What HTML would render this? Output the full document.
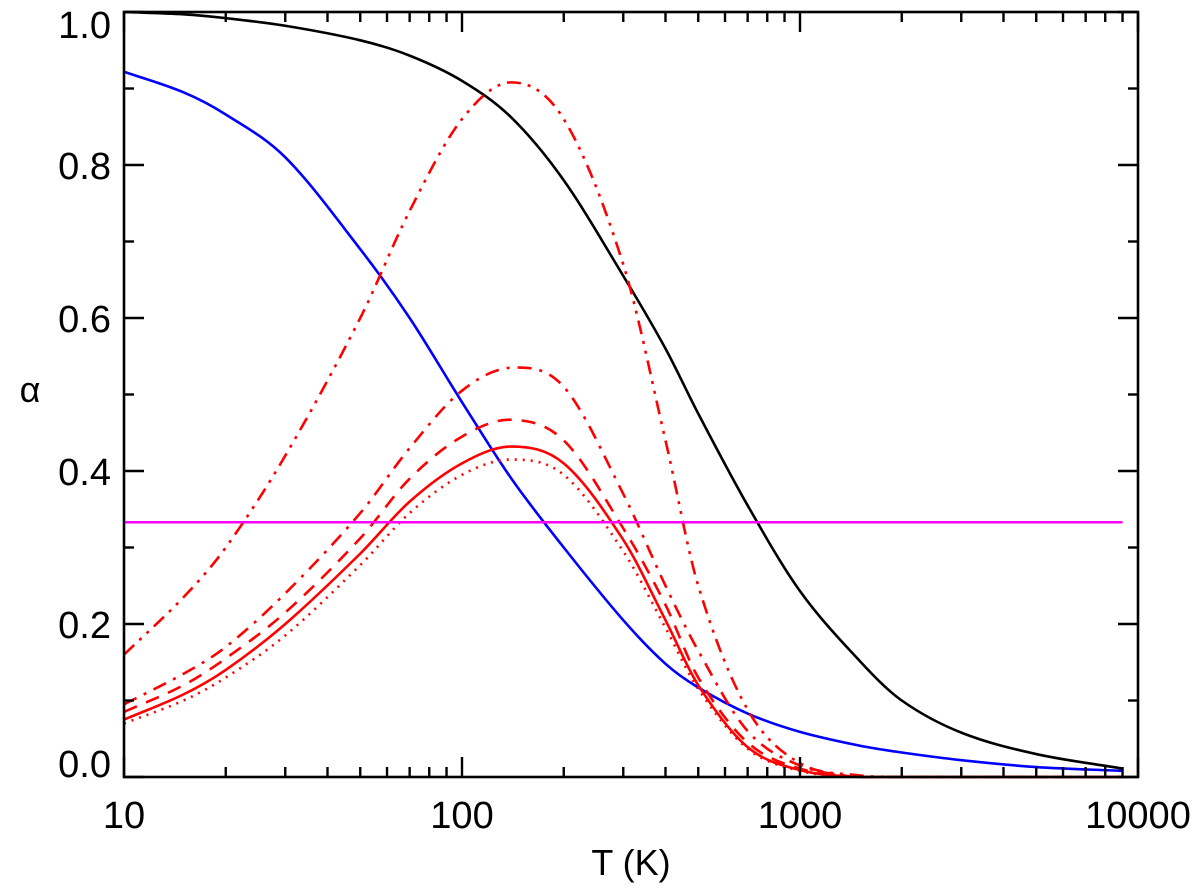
<!DOCTYPE html>
<html><head><meta charset="utf-8"><style>
html,body{margin:0;padding:0;background:#fff}
svg text{font-family:"Liberation Sans",sans-serif;fill:#000}
</style></head><body>
<svg id="chart" width="1200" height="887" xmlns="http://www.w3.org/2000/svg">
<g id="marks"></g><g id="axes"></g>
</svg>
<script>
const temps=[10,15,20,30,50,70,100,140,200,300,400,500,700,1000,1500,2000,3000,5000,9000];
const blackVals=[1.0,0.997,0.992,0.982,0.963,0.943,0.91,0.862,0.78,0.655,0.56,0.475,0.355,0.243,0.152,0.1,0.058,0.03,0.011];
const blueVals=[0.922,0.895,0.866,0.81,0.69,0.6,0.49,0.39,0.30,0.205,0.148,0.117,0.083,0.059,0.041,0.032,0.022,0.013,0.008];
const redSolid=[0.075,0.108,0.14,0.2,0.292,0.36,0.41,0.432,0.41,0.31,0.205,0.12,0.039,0.009,0,0,0,0,0];
const redDotted=[0.07,0.10,0.13,0.185,0.277,0.345,0.395,0.415,0.395,0.295,0.195,0.115,0.037,0.008,0,0,0,0,0];
const redDashed=[0.085,0.12,0.155,0.215,0.312,0.39,0.445,0.467,0.44,0.325,0.225,0.13,0.045,0.011,0,0,0,0,0];
const redDashDot=[0.095,0.135,0.17,0.24,0.345,0.43,0.505,0.535,0.51,0.37,0.25,0.165,0.06,0.015,0,0,0,0,0];
const redDashDotDot=[0.16,0.235,0.3,0.42,0.6,0.74,0.86,0.908,0.86,0.67,0.44,0.25,0.088,0.018,0.002,0,0,0,0];
const magentaLevel=[0.333];
const xTickVals=[10,100,1000,10000];
const xTickLabels=["10","100","1000","10000"];
const yTickVals=[0,0.2,0.4,0.6,0.8,1.0];
const yTickLabels=["0.0","0.2","0.4","0.6","0.8","1.0"];

const L=124,R=1138,T0=12,B=777;
const X=t=>L+(R-L)*(Math.log10(t)-1)/3;
const Y=v=>B-(B-T0)*v;
const NS="http://www.w3.org/2000/svg";
const marks=document.getElementById('marks'),axes=document.getElementById('axes');
function mk(tag,attrs,parent){const e=document.createElementNS(NS,tag);for(const k in attrs)e.setAttribute(k,attrs[k]);parent.appendChild(e);return e;}
function pathFor(vals){
  const p=temps.map((t,i)=>[X(t),Y(vals[i])]);
  let d="M"+p[0][0]+","+p[0][1];
  for(let i=0;i<p.length-1;i++){
    const p0=p[i-1]||p[i],p1=p[i],p2=p[i+1],p3=p[i+2]||p2;
    const h=p2[0]-p1[0];
    const s1=(p2[1]-p0[1])/(p2[0]-p0[0]||1), s2=(p3[1]-p1[1])/(p3[0]-p1[0]||1);
    let c1y=p1[1]+s1*h/3,c2y=p2[1]-s2*h/3;
    c1y=Math.min(c1y,B);c2y=Math.min(c2y,B);
    d+=` C${p1[0]+h/3},${c1y} ${p2[0]-h/3},${c2y} ${p2[0]},${p2[1]}`;
  }
  return d;
}
const series=[
 ['black-curve',blackVals,'#000',''],
 ['blue-curve',blueVals,'#0000ff',''],
 ['red-solid-curve',redSolid,'#ff0000',''],
 ['red-dotted-curve',redDotted,'#ff0000','2 6'],
 ['red-dashed-curve',redDashed,'#ff0000','14 10'],
 ['red-dashdot-curve',redDashDot,'#ff0000','14 8 3 8'],
 ['red-dashdotdot-curve',redDashDotDot,'#ff0000','14 7 3 7 3 7'],
];
series.forEach(s=>{
  const e=mk('path',{d:pathFor(s[1]),fill:'none',stroke:s[2],'stroke-width':2.6,'stroke-dasharray':s[3]},marks);
  
  
});
const mg=mk('line',{x1:L,x2:X(9000),y1:Y(magentaLevel[0]),y2:Y(magentaLevel[0]),stroke:'#ff00ff','stroke-width':2.6},marks);



const frame=mk('rect',{x:L,y:T0,width:R-L,height:B-T0,fill:'none',stroke:'#000','stroke-width':2.6},axes);


for(let dec=10;dec<10000;dec*=10){for(let m=2;m<=9;m++){const x=X(dec*m);
 mk('line',{x1:x,x2:x,y1:B,y2:B-10,stroke:'#000','stroke-width':2.4},axes);
 mk('line',{x1:x,x2:x,y1:T0,y2:T0+10,stroke:'#000','stroke-width':2.4},axes);}}
xTickVals.forEach((v,i)=>{const x=X(v);
 mk('line',{x1:x,x2:x,y1:B,y2:B-20,stroke:'#000','stroke-width':2.4},axes);
 mk('line',{x1:x,x2:x,y1:T0,y2:T0+20,stroke:'#000','stroke-width':2.4},axes);
 const t=mk('text',{x:x,y:828,'text-anchor':'middle',style:'font-size:38px'},axes);t.textContent=xTickLabels[i];
 
 
});
for(let v=0.1;v<1;v+=0.2){const y=Y(v);
 mk('line',{x1:L,x2:L+10,y1:y,y2:y,stroke:'#000','stroke-width':2.4},axes);
 mk('line',{x1:R,x2:R-10,y1:y,y2:y,stroke:'#000','stroke-width':2.4},axes);}
yTickVals.forEach((v,i)=>{const y=Y(v);
 mk('line',{x1:L,x2:L+20,y1:y,y2:y,stroke:'#000','stroke-width':2.4},axes);
 mk('line',{x1:R,x2:R-20,y1:y,y2:y,stroke:'#000','stroke-width':2.4},axes);
 const ty=(i===0)?y:(i===yTickVals.length-1?y+26:y+14);
 const t=mk('text',{x:111,y:ty,'text-anchor':'end',style:'font-size:38px'},axes);t.textContent=yTickLabels[i];
 
 
});
const xt=mk('text',{x:631,y:875,'text-anchor':'middle',style:'font-size:36px'},axes);xt.textContent='T (K)';


const yt=mk('text',{x:30,y:402,'text-anchor':'middle',style:'font-size:36px'},axes);yt.textContent='α';


</script>
</body></html>
